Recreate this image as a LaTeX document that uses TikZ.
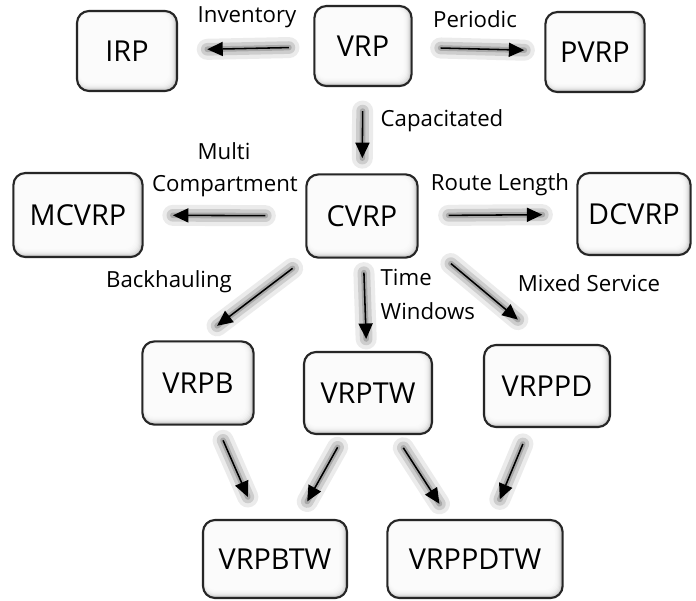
\documentclass[tikz,border=0pt]{standalone}
\usepackage{fontspec}
\setmainfont{Open Sans}
\usetikzlibrary{arrows.meta}
\tikzset{
 prob/.style={draw=black!85, line width=1.5pt, rounded corners=0.3cm, fill=black!32, minimum height=2cm, font=\fontsize{20.5}{24}\selectfont,
  path picture={\foreach \d in {0.7,1.4,...,5.6}
   \fill[white, opacity=0.35, rounded corners=0.25cm] ([shift={(\d*0.3pt,\d*1pt)}]path picture bounding box.south west) rectangle ([shift={(-\d*1pt,-\d*0.3pt)}]path picture bounding box.north east);}},
 lbl/.style={inner sep=1pt, font=\fontsize{15.8}{19}\selectfont},
 flow/.style={-{Triangle[length=11pt,width=10pt]}, line width=1.1pt,
  preaction={draw=black, opacity=0.08, line width=15pt, line cap=round, -},
  preaction={draw=black, opacity=0.13, line width=9pt, line cap=round, -},
  preaction={draw=black, opacity=0.18, line width=4pt, line cap=round, -}}
}
\begin{document}
\begin{tikzpicture}[x=0.025cm,y=-0.025cm]
\useasboundingbox (0,0) rectangle (696,600);
 \node[prob, minimum width=2.43cm] (VRP) at (363,46) {VRP};
 \node[prob, minimum width=2.5cm] (IRP) at (127,51) {IRP};
 \node[prob, minimum width=2.48cm] (PVRP) at (595,52) {PVRP};
 \node[prob, minimum width=3.23cm, minimum height=2.1cm] (MCVRP) at (78,215) {MCVRP};
 \node[prob, minimum width=2.78cm, minimum height=2.08cm] (CVRP) at (362,216) {CVRP};
 \node[prob, minimum width=2.83cm, minimum height=2.05cm] (DCVRP) at (634,214) {DCVRP};
 \node[prob, minimum width=2.78cm, minimum height=2.08cm] (VRPB) at (198,383) {VRPB};
 \node[prob, minimum width=3.2cm, minimum height=2.05cm] (VRPTW) at (368,393) {VRPTW};
 \node[prob, minimum width=3.15cm, minimum height=2.05cm] (VRPPD) at (547,386) {VRPPD};
 \node[prob, minimum width=3.6cm, minimum height=1.95cm] (VRPBTW) at (275,559) {VRPBTW};
 \node[prob, minimum width=4.38cm, minimum height=1.95cm] (VRPPDTW) at (475,559) {VRPPDTW};
 % labels
 \node[lbl] (inv) at (247,17) {Inventory};
 \node[lbl] (per) at (475,19) {Periodic};
 \node[lbl, anchor=west] (cap) at (379,121) {Capacitated};
 \node[lbl] (multi) at (224,151) {Multi};
 \node[lbl] (comp) at (225,186) {Compartment};
 \node[lbl] (rlen) at (500,185) {Route Length};
 \node[lbl] (back) at (169,282) {Backhauling};
 \node[lbl, anchor=west] (time) at (379,277) {Time};
 \node[lbl, anchor=west] (win) at (379,311) {Windows};
 \node[lbl] (mix) at (589,283) {Mixed Service};
 % arrows
 \draw[flow, shorten <=0.61cm, shorten >=0.73cm] (VRP) -- (IRP);
 \draw[flow, shorten <=0.7cm, shorten >=0.5cm] (VRP) -- (PVRP);
 \draw[flow, shorten <=0.6cm, shorten >=0.38cm] (VRP) -- (CVRP);
 \draw[flow, shorten <=1cm, shorten >=0.73cm] (CVRP) -- (MCVRP);
 \draw[flow, shorten <=0.75cm, shorten >=0.85cm] (CVRP) -- (DCVRP);
 \draw[flow, shorten <=0.4cm, shorten >=0.6cm] (CVRP.south west) -- (VRPB.north);
 \draw[flow, shorten <=0.35cm, shorten >=0.3cm] (CVRP) -- (VRPTW);
 \draw[flow, shorten <=1.05cm, shorten >=0.95cm] (CVRP.-20) -- (VRPPD.north);
 \draw[flow, shorten <=0.4cm, shorten >=0.6cm] (VRPB) -- (VRPBTW);
 \draw[flow, shorten <=0.35cm, shorten >=0.5cm] (VRPTW) -- (VRPBTW);
 \draw[flow, shorten <=0.38cm, shorten >=0.45cm] (VRPTW) -- (VRPPDTW);
 \draw[flow, shorten <=0.43cm, shorten >=0.53cm] (VRPPD) -- (VRPPDTW);
\end{tikzpicture}
\end{document}
